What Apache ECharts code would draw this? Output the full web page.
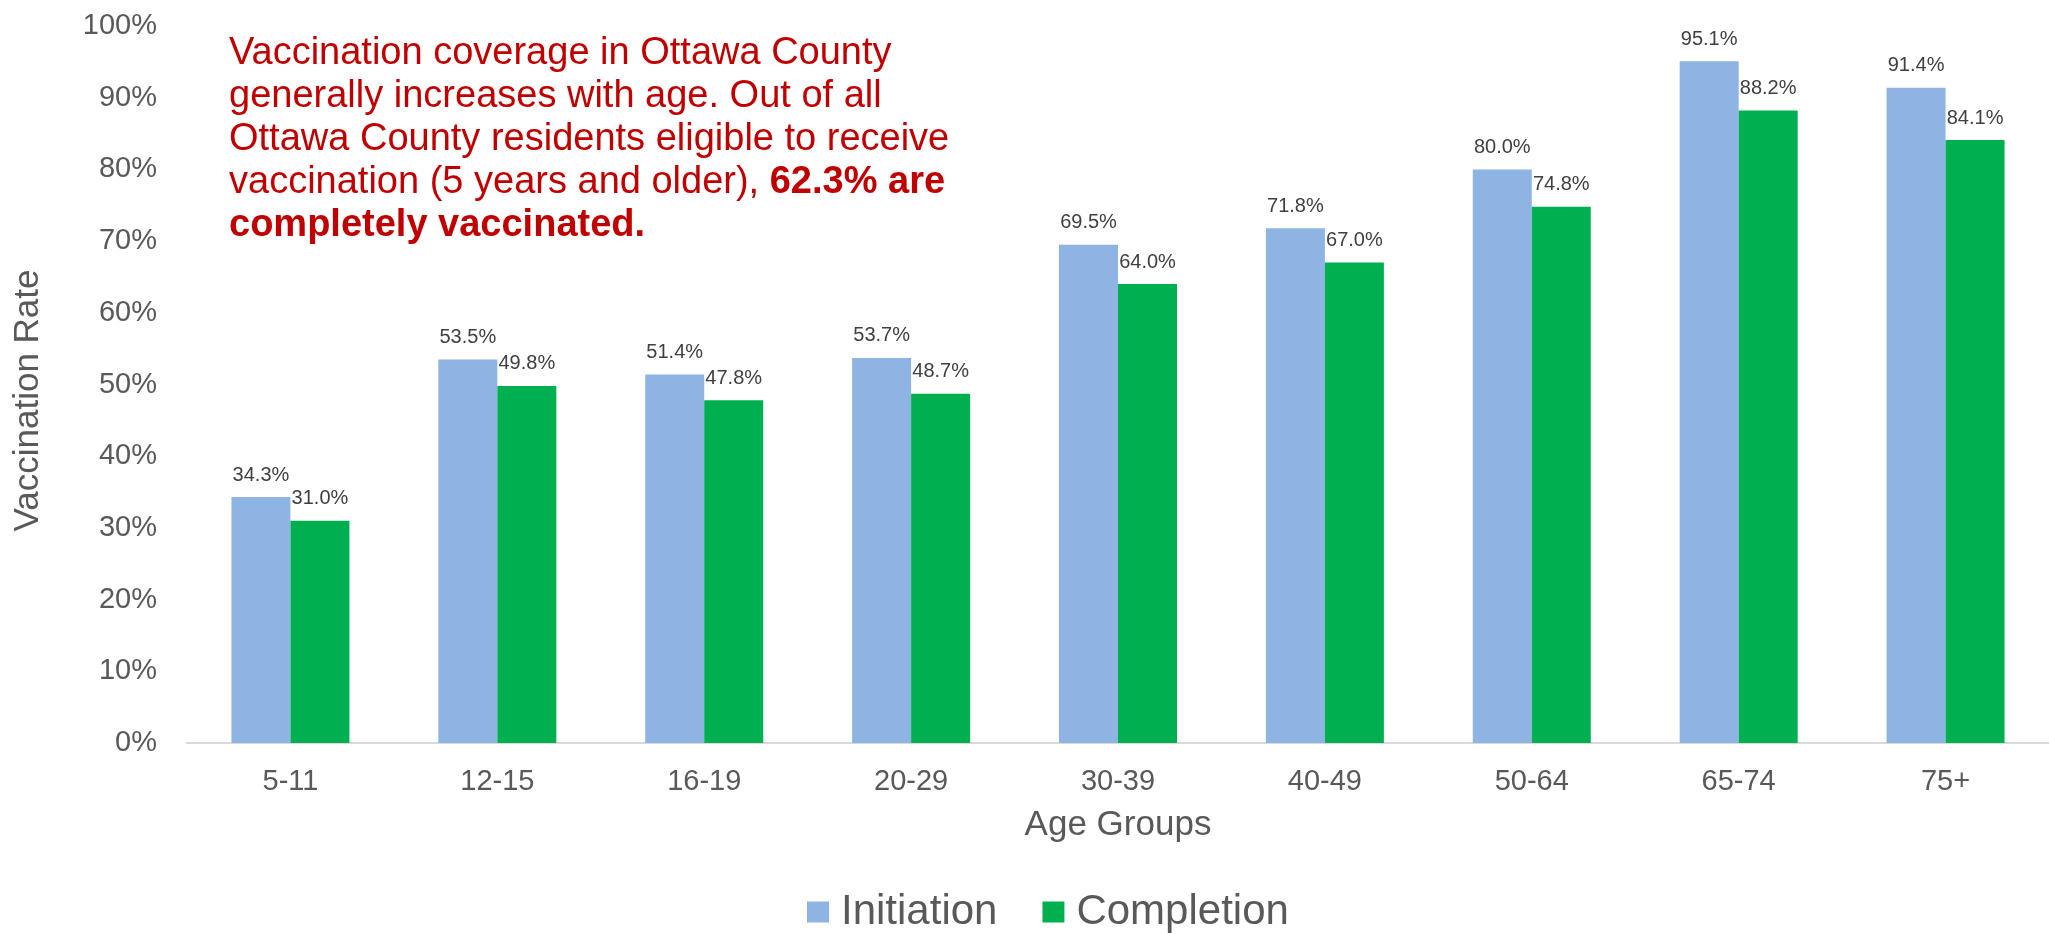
<!DOCTYPE html>
<html>
<head>
<meta charset="utf-8">
<script src="https://cdn.jsdelivr.net/npm/echarts@6/dist/echarts.min.js"></script>
<style>
  html, body { margin: 0; padding: 0; background: #fff; }
  #main { width: 2049px; height: 934px; }
</style>
</head>
<body>
<div id="main"></div>
<script>
const ageGroups = ["5-11", "12-15", "16-19", "20-29", "30-39", "40-49", "50-64", "65-74", "75+"];
const initiation = [34.3, 53.5, 51.4, 53.7, 69.5, 71.8, 80.0, 95.1, 91.4];
const completion = [31.0, 49.8, 47.8, 48.7, 64.0, 67.0, 74.8, 88.2, 84.1];

const FONT = "'Liberation Sans', Arial, sans-serif";

let chart = echarts.init(document.getElementById("main"));

// label above each bar, one decimal
const barLabel = {
  show: true,
  position: "top",
  distance: 12,
  fontSize: 20,
  fontFamily: FONT,
  color: "#404040",
  formatter: (p) => p.value.toFixed(1) + "%",
};

let option = {
  backgroundColor: "#fff",
  animation: false,
  title: {
    left: 224,
    top: 27,
    text:
      "{n|Vaccination coverage in Ottawa County}\n" +
      "{n|generally increases with age. Out of all}\n" +
      "{n|Ottawa County residents eligible to receive}\n" +
      "{n|vaccination (5 years and older), }{b|62.3% are}\n" +
      "{b|completely vaccinated.}",
    textStyle: {
      fontWeight: "normal",
      rich: {
        n: { fontSize: 38, lineHeight: 43, color: "#C00000", fontFamily: FONT, fontWeight: "normal" },
        b: { fontSize: 38, lineHeight: 43, color: "#C00000", fontFamily: FONT, fontWeight: "bold" },
      },
    },
  },
  legend: {
    left: 807,
    top: 891,
    padding: 0,
    itemWidth: 22,
    itemHeight: 21,
    itemGap: 45,
    icon: "rect",
    textStyle: { fontSize: 42, color: "#595959", fontFamily: FONT, padding: [0, 0, 0, 7] },
    data: ["Initiation", "Completion"],
  },
  grid: { left: 187, right: -6, top: 26, bottom: 191 },
  xAxis: {
    type: "category",
    data: ageGroups,
    name: "Age Groups",
    nameLocation: "middle",
    nameGap: 65,
    nameTextStyle: { fontSize: 35, color: "#595959", fontFamily: FONT },
    axisLine: { lineStyle: { color: "#D9D9D9", width: 2 } },
    axisTick: { show: false },
    axisLabel: { fontSize: 29, color: "#595959", fontFamily: FONT, margin: 24 },
  },
  yAxis: {
    type: "value",
    min: 0,
    max: 100,
    interval: 10,
    name: "Vaccination Rate",
    nameLocation: "middle",
    nameGap: 141,
    nameTextStyle: { fontSize: 35, color: "#595959", fontFamily: FONT, padding: [0, 32, 0, 0] },
    axisLine: { show: false },
    axisTick: { show: false },
    splitLine: { show: false },
    axisLabel: { fontSize: 29, color: "#595959", fontFamily: FONT, margin: 30, formatter: "{value}%" },
  },
  series: [
    {
      name: "Initiation",
      type: "bar",
      data: initiation,
      barWidth: 59,
      barGap: "0%",
      itemStyle: { color: "#8EB4E3" },
      label: barLabel,
    },
    {
      name: "Completion",
      type: "bar",
      data: completion,
      barWidth: 59,
      itemStyle: { color: "#00B050" },
      label: barLabel,
    },
  ],
};

chart.setOption(option);
window.addEventListener("resize", () => chart.resize());
</script>
</body>
</html>
